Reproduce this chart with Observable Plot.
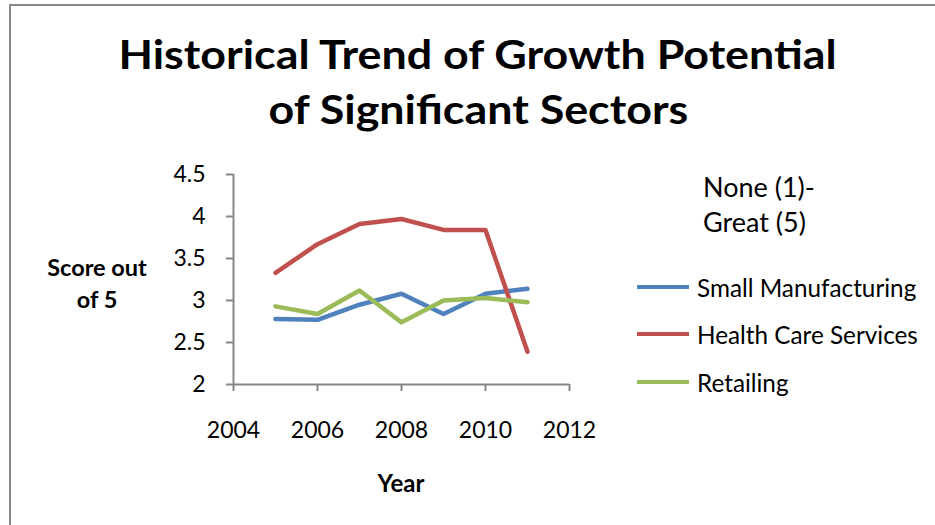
<!DOCTYPE html>
<html>
<head>
<meta charset="utf-8">
<script src="https://cdn.jsdelivr.net/npm/d3@7"></script>
<script src="https://cdn.jsdelivr.net/npm/@observablehq/plot@0.6"></script>
<style>
  html, body { margin: 0; padding: 0; background: #fff; }
  #chart { position: relative; width: 935px; height: 525px; overflow: hidden; font-family: Lato, "Open Sans", sans-serif; color: #000; }
  #frame { position: absolute; left: 9px; top: 4px; width: 940px; height: 530px; border-left: 2px solid #898989; border-top: 2px solid #898989; box-sizing: border-box; }
  #title { position: absolute; left: 21px; width: 914px; top: 27px; text-align: center; font-weight: 700; font-size: 40px; line-height: 55px; white-space: nowrap; }
  #title span { display: inline-block; transform: scaleX(1.12); transform-origin: center; }
  #plot { position: absolute; left: 0; top: 0; }
  #ylabel { position: absolute; left: 37px; width: 120px; top: 251px; text-align: center; font-weight: 700; font-size: 23.5px; line-height: 32px; }
  #xlabel { position: absolute; left: 301px; width: 200px; top: 467px; text-align: center; font-weight: 700; font-size: 24px; line-height: 32px; }
  #legendTitle { position: absolute; left: 703px; top: 169px; font-size: 27px; line-height: 35px; white-space: nowrap; }
  .lg { position: absolute; left: 637px; height: 30px; display: flex; align-items: center; white-space: nowrap; font-size: 24.3px; }
  .lg .sw { width: 52px; height: 4px; margin-right: 8px; }
</style>
</head>
<body>
<div id="chart">
  <div id="frame"></div>
  <div id="plot"></div>
  <div id="title"></div>
  <div id="ylabel"></div>
  <div id="xlabel"></div>
  <div id="legendTitle"></div>
  <div id="legend"></div>
</div>
<script>
// ---- data ----
const titleLines = ["Historical Trend of Growth Potential", "of Significant Sectors"];
const yAxisLabel = ["Score out", "of 5"];
const xAxisLabel = "Year";
const legendTitleLines = ["None (1)-", "Great (5)"];
const years = [2005, 2006, 2007, 2008, 2009, 2010, 2011];
const seriesNames = ["Small Manufacturing", "Health Care Services", "Retailing"];
const smallManufacturing = [2.78, 2.77, 2.95, 3.08, 2.84, 3.08, 3.14];
const healthCareServices = [3.33, 3.67, 3.91, 3.97, 3.84, 3.84, 2.39];
const retailing = [2.93, 2.84, 3.12, 2.74, 3.00, 3.03, 2.98];
const seriesColors = ["#4F81BD", "#C0504D", "#9BBB59"];
const xTicks = [2004, 2006, 2008, 2010, 2012];
const yTicks = [2, 2.5, 3, 3.5, 4, 4.5];

// ---- build ----
const seriesValues = [smallManufacturing, healthCareServices, retailing];
const rows = seriesNames.flatMap((name, s) =>
  years.map((yr, i) => ({ year: yr, value: seriesValues[s][i], series: name })));

const axisColor = "#868686";

const svg = Plot.plot({
  width: 935,
  height: 525,
  marginLeft: 233,
  marginRight: 366,
  marginTop: 174,
  marginBottom: 141,
  style: { fontFamily: "Lato, 'Open Sans', sans-serif", fontSize: "23px", color: "#000", background: "transparent", overflow: "visible" },
  x: { domain: [2004, 2012] },
  y: { domain: [2, 4.5] },
  color: { domain: seriesNames, range: seriesColors },
  marks: [
    Plot.axisY({ ticks: yTicks, tickSize: 7, tickPadding: 21, stroke: axisColor, strokeWidth: 2, label: null, tickFormat: d => String(d) }),
    Plot.axisX({ ticks: xTicks, tickSize: 7, tickPadding: 30, stroke: axisColor, strokeWidth: 2, label: null, tickFormat: d => String(d) }),
    Plot.ruleX([2004], { stroke: axisColor, strokeWidth: 2 }),
    Plot.ruleY([2], { stroke: axisColor, strokeWidth: 2 }),
    Plot.lineY(rows, { x: "year", y: "value", z: "series", stroke: "series", strokeWidth: 4.5, strokeLinecap: "round", strokeLinejoin: "round" })
  ]
});
document.getElementById("plot").appendChild(svg);

document.getElementById("title").innerHTML = titleLines.map(t => "<span>" + t + "</span>").join("<br>");
document.getElementById("ylabel").innerHTML = yAxisLabel.join("<br>");
document.getElementById("xlabel").textContent = xAxisLabel;
document.getElementById("legendTitle").innerHTML = legendTitleLines.join("<br>");

const legendY = [287, 334, 382];
const legend = document.getElementById("legend");
seriesNames.forEach((name, i) => {
  const row = document.createElement("div");
  row.className = "lg";
  row.style.top = (legendY[i] - 15) + "px";
  const sw = document.createElement("span");
  sw.className = "sw";
  sw.style.background = seriesColors[i];
  const lab = document.createElement("span");
  lab.textContent = name;
  row.appendChild(sw);
  row.appendChild(lab);
  legend.appendChild(row);
});
</script>
</body>
</html>
